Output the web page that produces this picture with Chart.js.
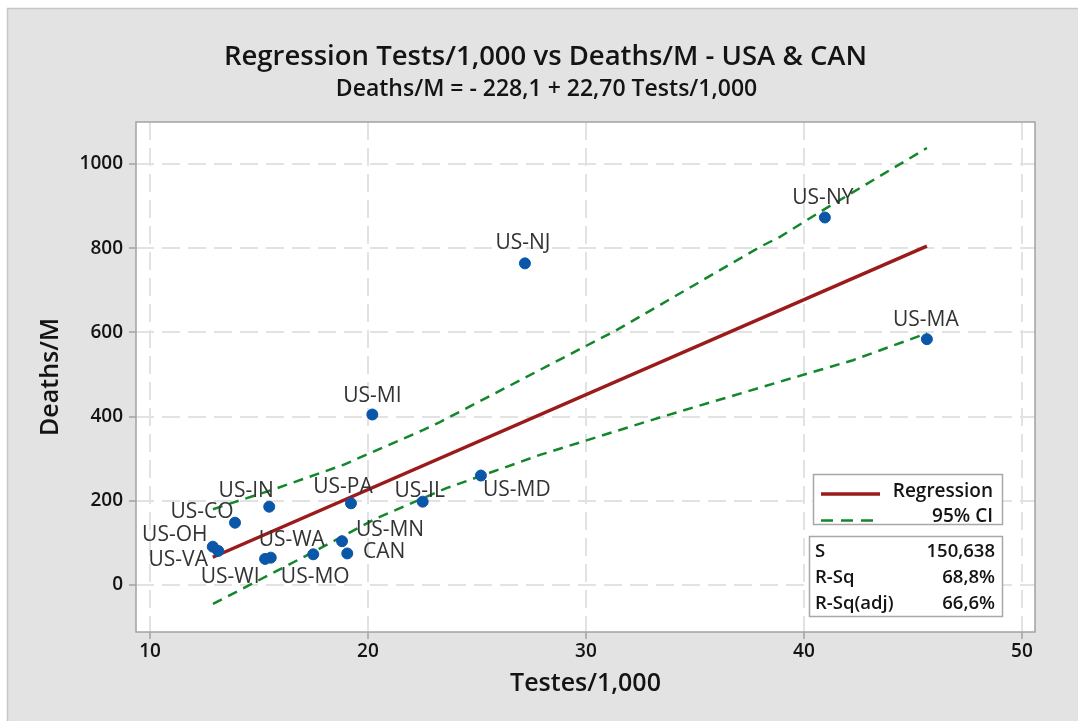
<!DOCTYPE html>
<html>
<head>
<meta charset="utf-8">
<script src="https://cdn.jsdelivr.net/npm/chart.js@4.4.0/dist/chart.umd.min.js"></script>
<style>
  html, body { margin: 0; padding: 0; background: #ffffff; }
  #wrap { width: 1078px; height: 721px; position: relative; }
</style>
</head>
<body>
<div id="wrap"><canvas id="c" width="1078" height="721"></canvas></div>
<script>
// ---------------- data ----------------
const chartTitle = 'Regression Tests/1,000 vs Deaths/M - USA & CAN';
const chartSubtitle = 'Deaths/M = - 228,1 + 22,70 Tests/1,000';
const xAxisTitle = 'Testes/1,000';
const yAxisTitle = 'Deaths/M';

const regions = ['US-NY', 'US-NJ', 'US-MA', 'US-MI', 'US-MD', 'US-IL', 'US-PA', 'US-IN',
                 'US-CO', 'US-OH', 'US-VA', 'US-WA', 'US-WI', 'US-MO', 'US-MN', 'CAN'];
const testsPer1000 = [40.96, 27.20, 45.64, 20.20, 25.18, 22.51, 19.22, 15.47,
                      13.90, 12.88, 13.13, 15.54, 15.28, 17.49, 18.81, 19.05];
const deathsPerM   = [873, 764, 584, 405, 260, 198, 194, 186,
                      148, 91, 81, 65, 62, 73, 104, 75];

// fitted line end points
const regX = [12.88, 45.64];
const regY = [66, 805];

// 95% CI curves
const ciUpperX = [12.89, 15.83, 18.85, 22.52, 23.30, 27.89, 31.42, 33.39, 37.98, 38.90, 40.73, 45.64];
const ciUpperY = [180, 230, 285, 368, 387, 511, 606, 665, 803, 827, 886, 1038];
const ciLowerX = [12.89, 17.66, 20.41, 23.60, 27.89, 33.39, 38.90, 42.25, 45.64];
const ciLowerY = [-45, 83, 159, 230, 309, 398, 483, 534, 598];

const xTicks = [10, 20, 30, 40, 50];
const yTicks = [0, 200, 400, 600, 800, 1000];

const seriesNames = ['Regression', '95% CI'];
const statNames  = ['S', 'R-Sq', 'R-Sq(adj)'];
const statValues = ['150,638', '68,8%', '66,6%'];

// ---------------- styling (not data) ----------------
const FONT = "'Open Sans', 'Noto Sans', sans-serif";
const TEXT = '#141414';
// label offsets in pixels relative to each point (dx, dy)
const labelOffsets = [[-2,-21],[-2,-22],[-1,-21],[0,-20],[36,13],[-3,-12],[-8,-18],[-23,-17],
                      [-33,-12],[-38,-13],[-40,8],[21,-19],[-35,17],[2,21],[48,-13],[37,-3]];

const toXY = (xs, ys) => xs.map((x, i) => ({ x: x, y: ys[i] }));

const backgroundPlugin = {
  id: 'bg',
  beforeDraw(chart) {
    const { ctx, chartArea: a } = chart;
    ctx.save();
    ctx.fillStyle = '#ffffff';
    ctx.fillRect(0, 0, chart.width, chart.height);
    ctx.fillStyle = '#e3e3e3';
    ctx.fillRect(7, 8, chart.width - 7, chart.height - 8);
    ctx.strokeStyle = '#c6c6c6';
    ctx.lineWidth = 1.5;
    ctx.beginPath();
    ctx.moveTo(7.5, chart.height);
    ctx.lineTo(7.5, 8.5);
    ctx.lineTo(chart.width, 8.5);
    ctx.stroke();
    ctx.fillStyle = '#ffffff';
    ctx.fillRect(a.left, a.top, a.right - a.left, a.bottom - a.top);
    // titles
    ctx.fillStyle = TEXT;
    ctx.textAlign = 'center';
    ctx.textBaseline = 'middle';
    ctx.font = '600 27.5px ' + FONT;
    ctx.fillText(chartTitle, 545.5, 57);
    ctx.font = '600 23px ' + FONT;
    ctx.fillText(chartSubtitle, 546.5, 89.5);
    ctx.restore();
  },
  afterDraw(chart) {
    const { ctx, chartArea: a } = chart;
    ctx.save();
    ctx.strokeStyle = '#a3a3a3';
    ctx.lineWidth = 1.5;
    ctx.strokeRect(a.left, a.top, a.right - a.left, a.bottom - a.top);
    ctx.restore();
  }
};

const pointLabelPlugin = {
  id: 'pointLabels',
  afterDatasetsDraw(chart) {
    const { ctx } = chart;
    const meta = chart.getDatasetMeta(0);
    ctx.save();
    ctx.font = '21px ' + FONT;
    ctx.fillStyle = '#333333';
    ctx.textAlign = 'center';
    ctx.textBaseline = 'middle';
    meta.data.forEach((pt, i) => {
      const off = labelOffsets[i];
      ctx.fillText(regions[i], pt.x + off[0], pt.y + off[1] + 1.5);
    });
    ctx.restore();
  }
};

const legendPlugin = {
  id: 'statLegend',
  afterDraw(chart) {
    const { ctx } = chart;
    ctx.save();
    // box 1
    ctx.fillStyle = '#ffffff';
    ctx.strokeStyle = '#a8a8a8';
    ctx.lineWidth = 1.5;
    ctx.fillRect(813.5, 474.5, 189, 50);
    ctx.strokeRect(813.5, 474.5, 189, 50);
    ctx.lineWidth = 3.5;
    ctx.strokeStyle = '#9b1b1b';
    ctx.beginPath(); ctx.moveTo(821, 494); ctx.lineTo(880, 494); ctx.stroke();
    ctx.lineWidth = 2.5;
    ctx.strokeStyle = '#12872b';
    ctx.setLineDash([12, 8]);
    ctx.beginPath(); ctx.moveTo(821, 520.5); ctx.lineTo(874, 520.5); ctx.stroke();
    ctx.setLineDash([]);
    ctx.font = '600 19px ' + FONT;
    ctx.fillStyle = TEXT;
    ctx.textAlign = 'right';
    ctx.textBaseline = 'middle';
    ctx.fillText(seriesNames[0], 993, 492);
    ctx.fillText(seriesNames[1], 993, 517);
    // box 2
    ctx.fillStyle = '#ffffff';
    ctx.strokeStyle = '#a8a8a8';
    ctx.lineWidth = 1.5;
    ctx.fillRect(809.5, 536.5, 193, 80);
    ctx.strokeRect(809.5, 536.5, 193, 80);
    ctx.fillStyle = TEXT;
    ctx.font = '600 18.5px ' + FONT;
    const rows = [552, 578, 604];
    statNames.forEach((n, i) => {
      ctx.textAlign = 'left';
      ctx.fillText(n, 815, rows[i]);
      ctx.textAlign = 'right';
      ctx.fillText(statValues[i], 995, rows[i]);
    });
    ctx.restore();
  }
};

new Chart(document.getElementById('c'), {
  type: 'scatter',
  data: {
    datasets: [
      {
        label: 'Points',
        data: toXY(testsPer1000, deathsPerM),
        backgroundColor: '#0a56a8',
        borderColor: '#0a56a8',
        pointRadius: 5.5,
        pointHoverRadius: 5.5,
        showLine: false
      },
      {
        label: seriesNames[0],
        data: toXY(regX, regY),
        showLine: true,
        borderColor: '#9b1b1b',
        borderWidth: 3.5,
        pointRadius: 0,
        fill: false
      },
      {
        label: seriesNames[1],
        data: toXY(ciUpperX, ciUpperY),
        showLine: true,
        borderColor: '#12872b',
        borderWidth: 2.5,
        borderDash: [10, 7],
        pointRadius: 0,
        fill: false
      },
      {
        label: seriesNames[1] + ' lower',
        data: toXY(ciLowerX, ciLowerY),
        showLine: true,
        borderColor: '#12872b',
        borderWidth: 2.5,
        borderDash: [10, 7],
        pointRadius: 0,
        fill: false
      }
    ]
  },
  options: {
    responsive: false,
    animation: false,
    events: [],
    layout: { padding: { left: 0, right: 43, top: 122, bottom: 0 } },
    plugins: {
      legend: { display: false },
      tooltip: { enabled: false },
      title: { display: false },
      subtitle: { display: false }
    },
    scales: {
      x: {
        type: 'linear',
        min: 9.358,
        max: 50.6,
        afterBuildTicks: s => { s.ticks = xTicks.map(v => ({ value: v })); },
        afterFit: s => { s.height = 89; },
        grid: { color: '#e2e2e2', lineWidth: 2, tickLength: 7, tickColor: '#a3a3a3', tickWidth: 1.5 },
        border: { display: false, dash: [18, 8] },
        ticks: { color: TEXT, font: { family: FONT, size: 19, weight: '600' }, padding: 1, maxRotation: 0, autoSkip: false,
                 callback: v => String(v) },
        title: { display: true, text: xAxisTitle, color: TEXT, font: { family: FONT, size: 25, weight: '600' },
                 padding: { top: 0, bottom: 22 } }
      },
      y: {
        type: 'linear',
        min: -111.6,
        max: 1099.8,
        afterBuildTicks: s => { s.ticks = yTicks.map(v => ({ value: v })); },
        afterFit: s => { s.width = 136; },
        grid: { color: '#e2e2e2', lineWidth: 2, tickLength: 7, tickColor: '#a3a3a3', tickWidth: 1.5 },
        border: { display: false, dash: [18, 8] },
        ticks: { color: TEXT, font: { family: FONT, size: 19, weight: '600' }, padding: 6, autoSkip: false,
                 callback: v => String(v) },
        title: { display: true, text: yAxisTitle, color: TEXT, font: { family: FONT, size: 25, weight: '600' },
                 padding: { top: 36, bottom: 0 } }
      }
    }
  },
  plugins: [backgroundPlugin, pointLabelPlugin, legendPlugin]
});
</script>
</body>
</html>
